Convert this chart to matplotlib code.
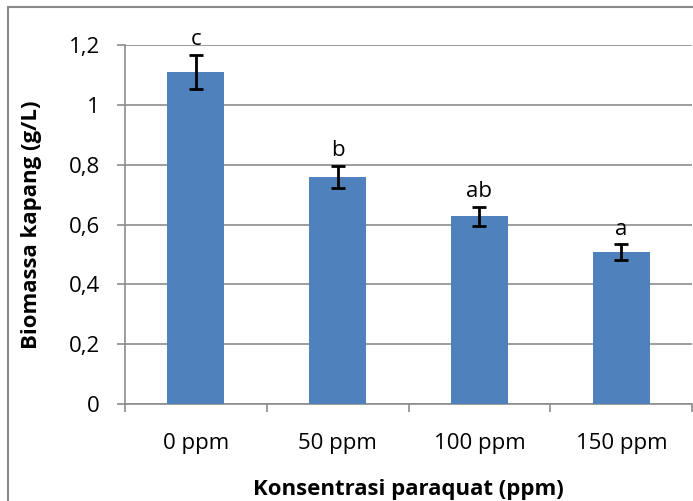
import matplotlib
matplotlib.use("Agg")
import matplotlib.pyplot as plt
from matplotlib.patches import Rectangle
from matplotlib.ticker import FuncFormatter

categories = ["0 ppm", "50 ppm", "100 ppm", "150 ppm"]
values = [1.11, 0.76, 0.628, 0.508]
errors = [0.058, 0.037, 0.032, 0.026]
letters = ["c", "b", "ab", "a"]

plt.rcParams['font.family'] = ['Open Sans', 'DejaVu Sans']
FS = 16

fig = plt.figure(figsize=(6.93, 5.01), dpi=100)
ax = fig.add_axes([0.180, 0.1936, 0.819, 0.7164])

x = list(range(len(categories)))
ax.bar(x, values, width=0.4, color="#4F81BD", zorder=3)
ax.errorbar(x, values, yerr=errors, fmt='none', ecolor='black', elinewidth=2,
            capsize=5, capthick=2, zorder=4)
for xi, v, e, l in zip(x, values, errors, letters):
    ax.text(xi, v + e + 0.016, l, ha='center', va='bottom', fontsize=FS, zorder=5)

ax.set_xlim(-0.5, len(categories) - 0.5)
ax.set_ylim(0, 1.2)
ax.set_yticks([0, 0.2, 0.4, 0.6, 0.8, 1.0, 1.2])
ax.yaxis.set_major_formatter(FuncFormatter(lambda v, p: ("%g" % round(v, 1)).replace('.', ',')))
ax.grid(axis='y', color='#8c8c8c', linewidth=1.2, zorder=0)
ax.set_xticks(x)
ax.set_xticklabels(categories, fontsize=FS)
ax.tick_params(axis='x', length=0, pad=21)
ax.set_xticks([i - 0.5 for i in range(len(categories) + 1)], minor=True)
ax.tick_params(axis='x', which='minor', length=6, color='#8c8c8c', width=1.2)
ax.tick_params(axis='y', labelsize=FS, length=6, color='#8c8c8c', width=1.2, pad=12)

for s in ['top', 'right']:
    ax.spines[s].set_visible(False)
for s in ['left', 'bottom']:
    ax.spines[s].set_color('#8c8c8c')
    ax.spines[s].set_linewidth(1.2)

ax.set_ylabel("Biomassa kapang (g/L)", fontsize=FS, fontweight='bold', labelpad=19)
ax.set_xlabel("Konsentrasi paraquat (ppm)", fontsize=FS, fontweight='bold', labelpad=18)

fig.patches.append(Rectangle((8 / 693, -0.1), 1.2, 1.1 - 8 / 501 + 0.002, transform=fig.transFigure,
                             fill=False, edgecolor='#8a8a8a', linewidth=1.5))

fig.savefig("out.png", dpi=100)
